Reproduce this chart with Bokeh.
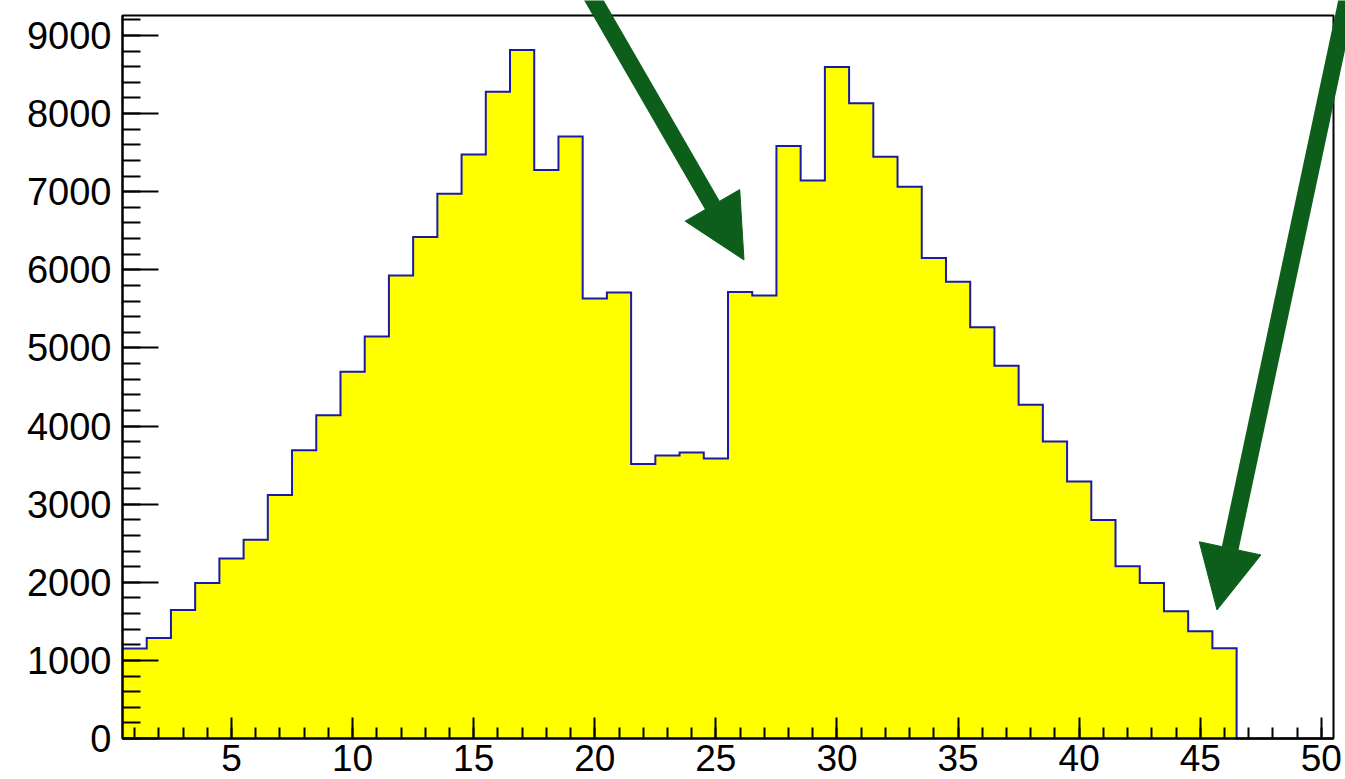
import numpy as np
from bokeh.plotting import figure
from bokeh.models import Range1d, SingleIntervalTicker, Arrow, NormalHead
from bokeh.embed import file_html
from bokeh.resources import INLINE

# ---- data ----
bin_centers = list(range(1, 51))
counts = [1151, 1288, 1644, 1990, 2305, 2545, 3118, 3690, 4139, 4695,
          5147, 5926, 6421, 6972, 7477, 8280, 8814, 7276, 7705, 5631,
          5708, 3515, 3622, 3660, 3583, 5716, 5669, 7583, 7144, 8596,
          8131, 7446, 7062, 6150, 5845, 5263, 4772, 4273, 3801, 3290,
          2797, 2204, 1992, 1628, 1373, 1156, 0, 0, 0, 0]
x_ticks = [5, 10, 15, 20, 25, 30, 35, 40, 45, 50]
y_ticks = [0, 1000, 2000, 3000, 4000, 5000, 6000, 7000, 8000, 9000]

arrow_x_start = [19.46, 51.24]
arrow_y_start = [9719, 9719]
arrow_x_end = [26.16, 45.69]
arrow_y_end = [6126, 1645]

# ---- layout (pixel margins of the histogram frame inside the canvas) ----
W, H = 1345, 779
M_LEFT, M_RIGHT, M_TOP, M_BOTTOM = 122, 12, 15, 41

# ---- derived step geometry ----
bin_width = 1.0
edges = np.array(bin_centers, dtype=float) - bin_width / 2
edges = np.append(edges, bin_centers[-1] + bin_width / 2)
step_x = np.repeat(edges, 2)[1:-1]
step_y = np.repeat(np.array(counts, dtype=float), 2)
ymax = max(counts) * 1.05

# the plotting frame fills the canvas; ranges are padded so that the
# histogram frame sits at the wanted margins (arrows may leave it, as in ROOT)
px_per_x = (W - M_LEFT - M_RIGHT) / (edges[-1] - edges[0])
px_per_y = (H - M_TOP - M_BOTTOM) / ymax
x_range = Range1d(edges[0] - M_LEFT / px_per_x, edges[-1] + M_RIGHT / px_per_x)
y_range = Range1d(0 - M_BOTTOM / px_per_y, ymax + M_TOP / px_per_y)

p = figure(width=W, height=H, output_backend="svg", toolbar_location=None,
           x_range=x_range, y_range=y_range, min_border=0)
p.grid.visible = False
p.background_fill_color = "white"
p.border_fill_color = "white"
p.outline_line_color = None

# filled histogram
p.patch(x=list(step_x) + [edges[-1], edges[0]], y=list(step_y) + [0, 0],
        fill_color="#ffff00", line_color=None)
# outline
p.line(x=list(step_x) + [edges[-1]], y=list(step_y) + [0],
       line_color="#1a1aa6", line_width=2, line_join="miter")
# histogram frame box
p.quad(left=[edges[0]], right=[edges[-1]], bottom=[0], top=[ymax],
       fill_color=None, line_color="black", line_width=2)

# arrows
green = "#0d5e1a"
for xs, ys, xe, ye in zip(arrow_x_start, arrow_y_start, arrow_x_end, arrow_y_end):
    p.add_layout(Arrow(x_start=xs, y_start=ys, x_end=xe, y_end=ye,
                       line_color=green, line_width=17, line_cap="butt",
                       end=NormalHead(size=63, fill_color=green, line_color=green, line_width=1)))

font = "Liberation Sans"
xa = p.xaxis[0]
xa.fixed_location = 0
xa.bounds = (edges[0], edges[-1])
xa.ticker = SingleIntervalTicker(interval=5, num_minor_ticks=5)
xa.major_tick_in = 21
xa.major_tick_out = 0
xa.minor_tick_in = 11
xa.minor_tick_out = 0
xa.axis_line_width = 2
xa.major_tick_line_width = 2
xa.minor_tick_line_width = 2
xa.major_label_text_font = font
xa.major_label_text_font_size = "37px"
xa.major_label_text_color = "black"
xa.major_label_standoff = 6

ya = p.yaxis[0]
ya.fixed_location = edges[0]
ya.bounds = (0, ymax)
ya.ticker = SingleIntervalTicker(interval=1000, num_minor_ticks=5)
ya.major_tick_in = 36
ya.major_tick_out = 0
ya.minor_tick_in = 18
ya.minor_tick_out = 0
ya.axis_line_width = 2
ya.major_tick_line_width = 2
ya.minor_tick_line_width = 2
ya.major_label_text_font = font
ya.major_label_text_font_size = "38px"
ya.major_label_text_color = "black"
ya.major_label_standoff = 11

open("out.html", "w").write(file_html(p, INLINE))
